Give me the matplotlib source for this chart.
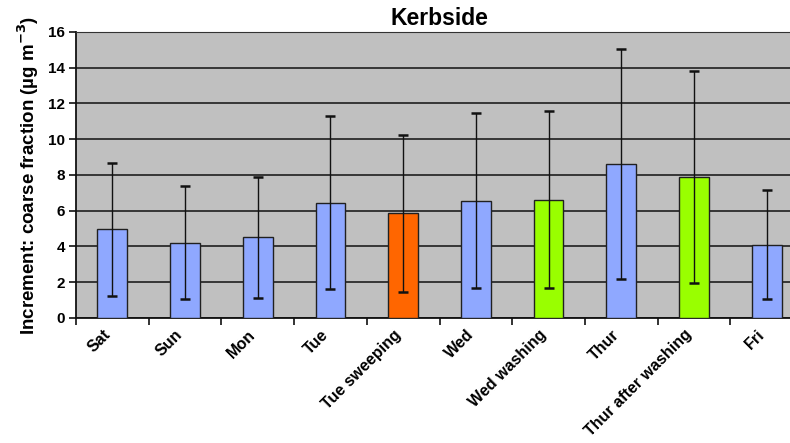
import matplotlib
matplotlib.use("Agg")
import matplotlib.pyplot as plt
import matplotlib.transforms as mtransforms
import numpy as np

# Daily mean increments of the coarse fraction at the kerbside site
categories = ["Sat", "Sun", "Mon", "Tue", "Tue sweeping", "Wed",
              "Wed washing", "Thur", "Thur after washing", "Fri"]
means = [4.96, 4.20, 4.51, 6.43, 5.85, 6.56, 6.58, 8.59, 7.91, 4.11]
err_low = [3.71, 3.15, 3.39, 4.82, 4.40, 4.90, 4.92, 6.42, 5.93, 3.06]
err_high = [3.71, 3.17, 3.38, 4.85, 4.39, 4.93, 4.98, 6.48, 5.91, 3.05]
kinds = ["day", "day", "day", "day", "sweeping", "day",
         "washing", "day", "washing", "day"]

colours = {"day": "#8FA8FF", "sweeping": "#FF6600", "washing": "#99FF00"}
yticks = [0, 2, 4, 6, 8, 10, 12, 14, 16]

plt.rcParams["font.family"] = ["Liberation Sans", "DejaVu Sans"]
plt.rcParams["font.weight"] = "bold"

fig = plt.figure(figsize=(7.90, 4.43), dpi=100)
ax = fig.add_axes([0.0962, 0.2822, 0.9203, 0.6456])
ax.set_facecolor("#C0C0C0")

x = np.arange(len(categories))
ax.bar(x, means, width=0.41, color=[colours[k] for k in kinds],
       edgecolor="#202020", linewidth=1.0, zorder=3)
ax.errorbar(x, means, yerr=[err_low, err_high], fmt="none", ecolor="#111111",
            elinewidth=1.0, capsize=3.5, capthick=1.8, zorder=4)

ax.set_xlim(-0.5, len(categories) - 0.5)
ax.set_ylim(0, 16)
ax.set_yticks(yticks)
ax.set_yticklabels([str(v) for v in yticks], fontsize=11, fontweight="bold")
ax.yaxis.grid(True, color="#111111", linewidth=1.1, zorder=1)
ax.set_axisbelow(True)

# category ticks sit between bars; rotated names hang below each bar centre
ax.set_xticks(np.arange(len(categories) + 1) - 0.5)
ax.set_xticklabels([])
offset = mtransforms.ScaledTranslation(-10 / 100, -9 / 100, fig.dpi_scale_trans)
label_tf = ax.get_xaxis_transform() + offset
for xi, name in zip(x, categories):
    ax.text(xi, 0, name, transform=label_tf, rotation=45, ha="right",
            va="top", rotation_mode="anchor", fontsize=11.5,
            fontweight="bold", clip_on=False)
ax.tick_params(axis="x", which="major", length=5, width=1.2, color="#111111")
ax.tick_params(axis="y", length=5, width=1.2, color="#111111", pad=3)

for side in ("left", "bottom"):
    ax.spines[side].set_color("#111111")
    ax.spines[side].set_linewidth(1.3)
ax.spines["top"].set_color("#333333")
ax.spines["right"].set_visible(False)

ax.set_title("Kerbside", fontsize=16.5, fontweight="bold", pad=5)
ax.set_ylabel(r"Increment: coarse fraction (µg m$^{\mathbf{-3}}$)",
              fontsize=13.5, fontweight="bold", labelpad=5)

fig.savefig("out.png", dpi=100, facecolor="white")
